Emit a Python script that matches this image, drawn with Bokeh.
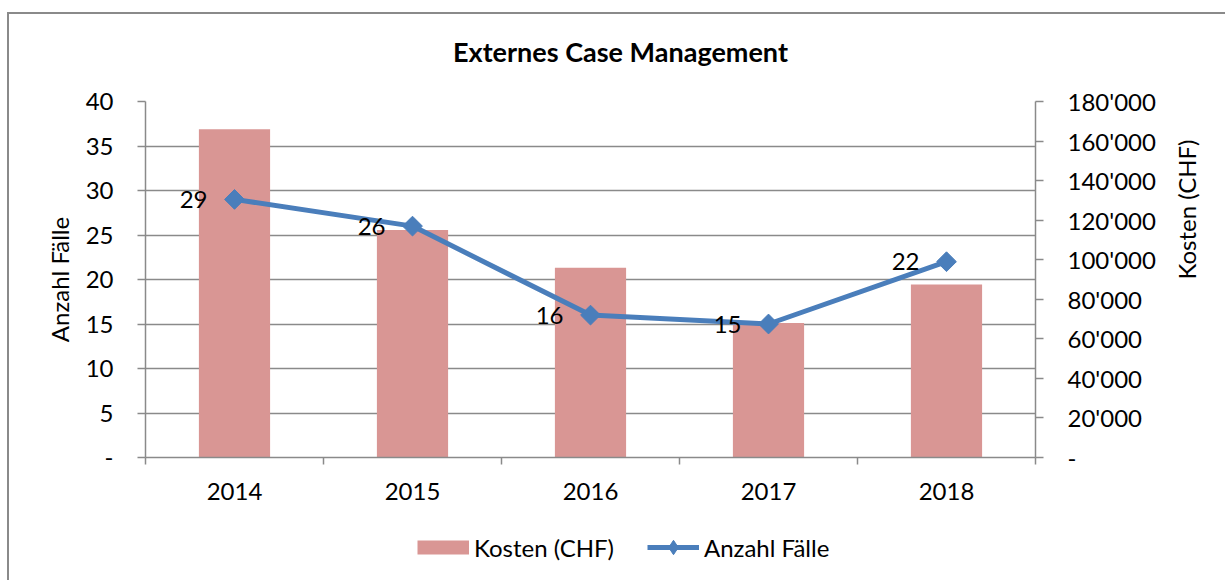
import math
from bokeh.plotting import figure
from bokeh.layouts import column
from bokeh.models import (Range1d, LinearAxis, FixedTicker, LabelSet, Label,
                          ColumnDataSource, Legend, LegendItem)
from bokeh.core.properties import value
from bokeh.embed import file_html
from bokeh.resources import INLINE

# ---- data ----
years = ["2014", "2015", "2016", "2017", "2018"]
kosten = [166000, 115000, 96000, 68000, 87500]
faelle = [29, 26, 16, 15, 22]
left_ticks = [0, 5, 10, 15, 20, 25, 30, 35, 40]
right_ticks = [0, 20000, 40000, 60000, 80000, 100000, 120000, 140000, 160000, 180000]
title_text = "Externes Case Management"
left_title = "Anzahl Fälle"
right_title = "Kosten (CHF)"
legend_labels = ["Kosten (CHF)", "Anzahl Fälle"]

FONT = "Lato"
FS = "24px"
GREY = "#8a8a8a"
BAR = "#d99694"
BLUE = "#4a7ebb"

# layout geometry (container border at 7/12, content at 9/14), page pixels
OX, OY = 9, 14
W = 1225 - OX
TOP_END = 86          # bottom of title strip
PLOT_END = 515        # bottom of main plot
H0 = TOP_END - OY
H1 = PLOT_END - TOP_END
H2 = 580 - PLOT_END
FL, FR = 145 - OX, 1035 - OX
FT, FB = 101 - TOP_END, 457 - TOP_END

# ---- title strip ----
p0 = figure(width=W, height=H0, output_backend="svg", toolbar_location=None,
            x_range=Range1d(0, 1), y_range=Range1d(0, 1), min_border=0,
            x_axis_location=None, y_axis_location=None)
p0.outline_line_color = None
p0.grid.visible = False
p0.background_fill_color = "white"
p0.border_fill_color = "white"
p0.add_layout(Label(x=620 - 145, y=35, x_units="screen", y_units="screen",
                    text=title_text, text_align="center", text_baseline="alphabetic",
                    text_font=FONT, text_font_size="27px", text_font_style="bold",
                    text_color="black"))

# ---- main plot ----
p = figure(width=W, height=H1, output_backend="svg", toolbar_location=None,
           x_range=Range1d(0, len(years)), y_range=Range1d(left_ticks[0], left_ticks[-1]),
           min_border_left=FL, min_border_right=W - FR,
           min_border_top=FT, min_border_bottom=H1 - FB,
           x_axis_location=None, y_axis_location=None)
p.extra_y_ranges = {"cost": Range1d(right_ticks[0], right_ticks[-1])}
p.outline_line_color = None
p.background_fill_color = "white"
p.border_fill_color = "white"

xs = [i + 0.5 for i in range(len(years))]
src = ColumnDataSource(dict(x=xs, year=years, kosten=kosten, faelle=faelle,
                            lbl=[str(v) for v in faelle]))

p.xgrid.visible = False

bars = p.vbar(x="x", top="kosten", bottom=0, width=0.4, y_range_name="cost",
              source=src, fill_color=BAR, line_color=None)
line = p.line("x", "faelle", source=src, line_color=BLUE, line_width=5,
              line_join="round")
pts = p.scatter("x", "faelle", source=src, marker="square", angle=math.pi / 4,
                size=14, fill_color=BLUE, line_color=BLUE)

labels = LabelSet(x="x", y="faelle", text="lbl", source=src, x_offset=-27,
                  text_align="right", text_baseline="middle",
                  text_font=value(FONT), text_font_size=FS, text_color="black")
p.add_layout(labels)

def style_axis(ax):
    ax.axis_line_color = GREY
    ax.axis_line_width = 1.5
    ax.major_tick_line_color = GREY
    ax.major_tick_line_width = 1.5
    ax.minor_tick_line_color = GREY
    ax.minor_tick_line_width = 1.5
    ax.major_label_text_font = FONT
    ax.major_label_text_font_size = FS
    ax.major_label_text_color = "black"
    ax.axis_label_text_font = FONT
    ax.axis_label_text_font_size = FS
    ax.axis_label_text_font_style = "normal"
    ax.axis_label_text_color = "black"

# left axis
yl = LinearAxis(ticker=FixedTicker(ticks=left_ticks),
                major_label_overrides={0: "-"}, axis_label=left_title)
style_axis(yl)
yl.major_tick_out = 8
yl.major_tick_in = 0
yl.minor_tick_out = 0
yl.minor_tick_in = 0
yl.major_label_standoff = 24
yl.axis_label_standoff = 9
p.add_layout(yl, "left")

# right axis
ov = {v: ("-" if v == 0 else f"{v:,}".replace(",", "'")) for v in right_ticks}
yr = LinearAxis(y_range_name="cost", ticker=FixedTicker(ticks=right_ticks),
                major_label_overrides=ov)
style_axis(yr)
yr.major_tick_out = 8
yr.major_tick_in = 0
yr.minor_tick_out = 0
yr.minor_tick_in = 0
yr.major_label_standoff = 24
p.add_layout(yr, "right")

# right axis title as a rotated single label (reads bottom to top)
mid = (right_ticks[0] + right_ticks[-1]) / 2
yr2 = LinearAxis(y_range_name="cost", ticker=FixedTicker(ticks=[mid]),
                 major_label_overrides={mid: right_title})
style_axis(yr2)
yr2.axis_line_color = None
yr2.major_tick_line_color = None
yr2.major_tick_out = 0
yr2.major_tick_in = 0
yr2.minor_tick_out = 0
yr2.minor_tick_in = 0
yr2.major_label_orientation = math.pi / 2
yr2.major_label_standoff = 28
p.add_layout(yr2, "right")

# bottom axis
xb = LinearAxis(ticker=FixedTicker(ticks=xs, minor_ticks=list(range(len(years) + 1))),
                major_label_overrides={x: y for x, y in zip(xs, years)})
style_axis(xb)
xb.major_tick_out = 0
xb.major_tick_in = 0
xb.minor_tick_out = 7
xb.minor_tick_in = 0
xb.major_label_standoff = 18
p.add_layout(xb, "below")

p.ygrid.ticker = FixedTicker(ticks=left_ticks)
p.ygrid.grid_line_color = GREY
p.ygrid.grid_line_width = 1.5

# ---- legend strip (separate figure so it is not clipped by the plot frame) ----
p2 = figure(width=W, height=H2, output_backend="svg", toolbar_location=None,
            x_range=Range1d(0, 1), y_range=Range1d(0, 1), min_border=0,
            x_axis_location=None, y_axis_location=None)
p2.outline_line_color = None
p2.grid.visible = False
p2.background_fill_color = "white"
p2.border_fill_color = "white"
sw_bar = p2.line([-5, -4], [-5, -5], line_color=BAR, line_width=14, line_cap="butt")
sw_line = p2.line([-5, -4], [-5, -5], line_color=BLUE, line_width=5)
sw_pt = p2.scatter([-5], [-5], marker="diamond", size=14,
                   fill_color=BLUE, line_color=BLUE)
legend = Legend(items=[LegendItem(label=legend_labels[0], renderers=[sw_bar]),
                       LegendItem(label=legend_labels[1], renderers=[sw_line, sw_pt])],
                orientation="horizontal", location=(417 - 145, 15),
                glyph_width=52, glyph_height=36, label_standoff=5, spacing=33,
                padding=0, margin=0, border_line_color=None,
                background_fill_alpha=0,
                label_text_font=FONT, label_text_font_size=FS,
                label_text_color="black")
p2.add_layout(legend, "center")

layout = column(p0, p, p2, spacing=0,
                styles={"border-left": "2px solid #8a8a8a",
                        "border-top": "2px solid #8a8a8a",
                        "margin-left": "7px", "margin-top": "12px"})

open("out.html", "w").write(file_html(layout, INLINE))
